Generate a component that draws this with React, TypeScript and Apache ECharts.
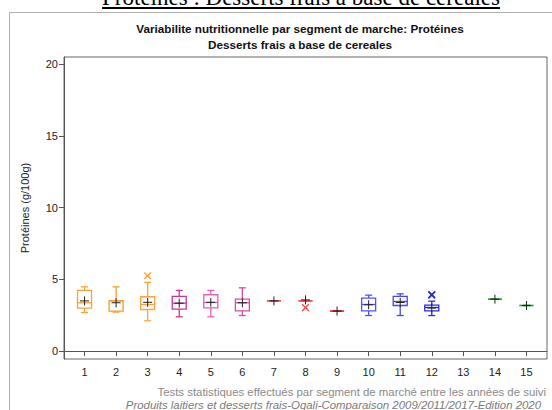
import React, { useEffect, useRef } from "react";
import * as echarts from "echarts";

// ---- data ----
const segments = [1, 2, 3, 4, 5, 6, 7, 8, 9, 10, 11, 12, 14, 15];
const mins = [2.69, 2.72, 2.11, 2.39, 2.39, 2.48, 3.5, 3.5, 2.79, 2.48, 2.48, 2.48, 3.62, 3.18];
const q1s = [2.99, 2.79, 2.9, 2.93, 3.02, 2.81, 3.5, 3.5, 2.79, 2.81, 3.18, 2.81, 3.62, 3.18];
const medians = [3.37, 3.5, 3.25, 3.34, 3.39, 3.37, 3.5, 3.5, 2.79, 3.25, 3.46, 3.04, 3.62, 3.18];
const q3s = [4.23, 3.5, 3.79, 3.81, 3.93, 3.62, 3.5, 3.5, 2.79, 3.69, 3.81, 3.2, 3.62, 3.18];
const maxs = [4.48, 4.48, 4.79, 4.23, 4.23, 4.41, 3.5, 3.5, 2.79, 3.9, 3.99, 3.48, 3.62, 3.18];
const means = [3.5, 3.37, 3.4, 3.34, 3.4, 3.37, 3.5, 3.57, 2.79, 3.23, 3.39, 3.0, 3.62, 3.18];
const segColors = [
  "#FFA033", "#F99A22", "#FFA240",
  "#CC3399", "#E560B2", "#D84AA8",
  "#FF4444", "#FF4444", "#EE2A2A",
  "#5050FF", "#4545FF", "#2A2AE0",
  "#2E9E2E", "#3AA63A",
];
const outlierSegments = [3, 8, 12, 12];
const outlierValues = [5.25, 3.03, 3.95, 3.9];
const outlierColors = ["#FFA033", "#FF4444", "#2A2AE0", "#2A2AE0"];
const xTicks = [1, 2, 3, 4, 5, 6, 7, 8, 9, 10, 11, 12, 13, 14, 15];
const yTicks = [0, 5, 10, 15, 20];

const FONT = "'Liberation Sans', Arial, sans-serif";

export default function App() {
  const ref = useRef<HTMLDivElement>(null);
  useEffect(() => {
    if (!ref.current) return;
    const chart = echarts.init(ref.current, null, { renderer: "svg" });
    const boxData = segments.map((s, i) => [s, mins[i], q1s[i], medians[i], q3s[i], maxs[i], means[i]]);
    const outData = outlierSegments.map((s, i) => [s, outlierValues[i]]);
    const HALF = 7;
    const CAP = 3.5;
    const PLUS = 4.5;
    chart.setOption({
      animation: false,
      textStyle: { fontFamily: FONT },
      grid: {
        left: 64, right: 5, top: 57, bottom: 51,
        show: true, borderColor: "#666", borderWidth: 1, backgroundColor: "transparent",
      },
      xAxis: {
        type: "value", min: 0.35, max: 15.65,
        axisLine: { show: true, lineStyle: { color: "#555" } },
        axisTick: { show: true, length: 5, lineStyle: { color: "#555" }, customValues: xTicks },
        axisLabel: { customValues: xTicks, color: "#222", fontSize: 11, fontFamily: FONT, margin: 7 },
        splitLine: { show: false },
      },
      yAxis: {
        type: "value", min: -0.55, max: 20.5,
        name: "Protéines (g/100g)", nameLocation: "middle", nameGap: 34,
        nameTextStyle: { color: "#222", fontSize: 11, fontFamily: FONT },
        axisLine: { show: true, lineStyle: { color: "#555" } },
        axisTick: { show: true, length: 5, lineStyle: { color: "#555" }, customValues: yTicks },
        axisLabel: { customValues: yTicks, color: "#222", fontSize: 11, fontFamily: FONT, margin: 6 },
        splitLine: { show: false },
      },
      graphic: [
        { type: "rect", silent: true, shape: { x: 9.5, y: 12.5, width: 600, height: 500 }, style: { fill: "none", stroke: "#b0b0b0", lineWidth: 1 } },
        { type: "text", x: 300, y: 28, style: { text: "Variabilite nutritionnelle par segment de marche: Protéines", font: `bold 11.7px ${FONT}`, fill: "#111", align: "center", verticalAlign: "middle" } },
        { type: "text", x: 300, y: 44, style: { text: "Desserts frais a base de cereales", font: `bold 11.7px ${FONT}`, fill: "#111", align: "center", verticalAlign: "middle" } },
        { type: "text", x: 546, y: 392, style: { text: "Tests statistiques effectués par segment de marché entre les années de suivi", font: `11.4px ${FONT}`, fill: "#8a8a8a", align: "right", verticalAlign: "middle" } },
        { type: "text", x: 541, y: 405, style: { text: "Produits laitiers et desserts frais-Oqali-Comparaison 2009/2011/2017-Edition 2020", font: `italic 11.4px ${FONT}`, fill: "#7a7a7a", align: "right", verticalAlign: "middle" } },
      ],
      series: [
        {
          type: "custom",
          data: boxData,
          renderItem: (params: any, api: any) => {
            const x = api.value(0);
            const c = segColors[params.dataIndex];
            const p = (v: number) => api.coord([x, v]);
            const pMin = p(api.value(1));
            const pQ1 = p(api.value(2));
            const pMed = p(api.value(3));
            const pQ3 = p(api.value(4));
            const pMax = p(api.value(5));
            const pMean = p(api.value(6));
            const cx = pMin[0];
            const ls = { stroke: c, lineWidth: 1.3 };
            return {
              type: "group",
              children: [
                { type: "line", shape: { x1: cx, y1: pMax[1], x2: cx, y2: pQ3[1] }, style: ls },
                { type: "line", shape: { x1: cx, y1: pMin[1], x2: cx, y2: pQ1[1] }, style: ls },
                { type: "line", shape: { x1: cx - CAP, y1: pMax[1], x2: cx + CAP, y2: pMax[1] }, style: ls },
                { type: "line", shape: { x1: cx - CAP, y1: pMin[1], x2: cx + CAP, y2: pMin[1] }, style: ls },
                { type: "rect", shape: { x: cx - HALF, y: pQ3[1], width: 2 * HALF, height: pQ1[1] - pQ3[1] }, style: { fill: "#fff", stroke: c, lineWidth: 1.3 } },
                { type: "line", shape: { x1: cx - HALF, y1: pMed[1], x2: cx + HALF, y2: pMed[1] }, style: ls },
                { type: "line", shape: { x1: cx - PLUS, y1: pMean[1], x2: cx + PLUS, y2: pMean[1] }, style: { stroke: "#222", lineWidth: 1 } },
                { type: "line", shape: { x1: cx, y1: pMean[1] - PLUS, x2: cx, y2: pMean[1] + PLUS }, style: { stroke: "#222", lineWidth: 1 } },
              ],
            };
          },
        },
        {
          type: "custom",
          data: outData,
          renderItem: (params: any, api: any) => {
            const pt = api.coord([api.value(0), api.value(1)]);
            const c = outlierColors[params.dataIndex];
            const r = 3.3;
            return {
              type: "group",
              children: [
                { type: "line", shape: { x1: pt[0] - r, y1: pt[1] - r, x2: pt[0] + r, y2: pt[1] + r }, style: { stroke: c, lineWidth: 1.4 } },
                { type: "line", shape: { x1: pt[0] - r, y1: pt[1] + r, x2: pt[0] + r, y2: pt[1] - r }, style: { stroke: c, lineWidth: 1.4 } },
              ],
            };
          },
        },
      ],
    });
    return () => chart.dispose();
  }, []);
  return (
    <div style={{ position: "absolute", left: 0, top: 0, width: 552, height: 410, overflow: "hidden", background: "#fff" }}>
      <div
        style={{
          position: "absolute", left: 0, top: -14, width: 602, textAlign: "center",
          fontFamily: "'Liberation Serif', 'Times New Roman', serif", fontSize: 23, lineHeight: "23px",
          textDecoration: "underline", color: "#000", whiteSpace: "nowrap",
        }}
      >
        Protéines : Desserts frais à base de céréales
      </div>
      <div ref={ref} style={{ position: "absolute", left: 0, top: 0, width: 552, height: 410 }} />
    </div>
  );
}
